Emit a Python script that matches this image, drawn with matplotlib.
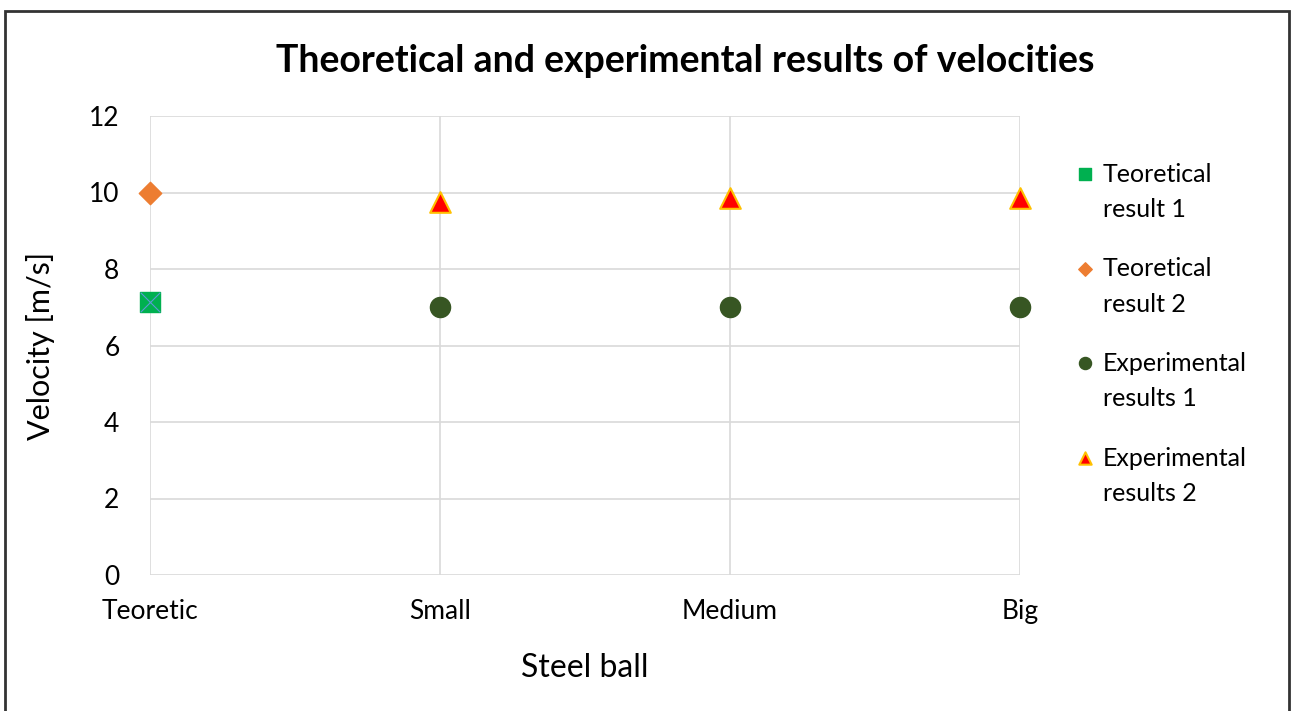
import numpy as np
from matplotlib import pyplot as plt
from matplotlib.patches import Rectangle

plt.rcParams['font.family'] = ['Lato', 'DejaVu Sans']

# data
categories = ['Teoretic', 'Small', 'Medium', 'Big']
teo1_x = [0]
teo1_y = [7.14]
teo2_x = [0]
teo2_y = [10.0]
exp1_x = [1, 2, 3]
exp1_y = [7.0, 7.0, 7.0]
exp2_x = [1, 2, 3]
exp2_y = [9.75, 9.85, 9.85]
yticks = [0, 2, 4, 6, 8, 10, 12]

fig = plt.figure(figsize=(12.93, 7.11), dpi=100)
ax = fig.add_axes([150 / 1293, 1 - 575 / 711, 870 / 1293, 459 / 711])

# outer chart border
fig.patches.append(Rectangle((5 / 1293, -0.05), 1284 / 1293, 1.05 - 11 / 711,
                             transform=fig.transFigure, fill=False,
                             edgecolor='#333333', linewidth=2))

ax.scatter(teo1_x, teo1_y, marker='s', s=220, color='#00B050', zorder=3,
           clip_on=False, label='Teoretical\nresult 1')
ax.scatter(teo1_x, teo1_y, marker='x', s=200, color='#5B9BD5', linewidths=0.8,
           zorder=4, clip_on=False)
ax.scatter(teo2_x, teo2_y, marker='D', s=130, color='#ED7D31', zorder=3,
           clip_on=False, label='Teoretical\nresult 2')
ax.scatter(exp1_x, exp1_y, marker='o', s=210, color='#375623', zorder=3,
           clip_on=False, label='Experimental\nresults 1')
ax.scatter(exp2_x, exp2_y, marker='^', s=220, color='#FF0000', edgecolors='#FFC000',
           linewidths=1.5, zorder=3, clip_on=False, label='Experimental\nresults 2')

ax.set_xlim(0, 3)
ax.set_ylim(0, 12)
ax.set_xticks(range(len(categories)))
ax.set_xticklabels(categories)
ax.set_yticks(yticks)
ax.tick_params(length=0, labelsize=19, colors='#000000')
ax.tick_params(axis='x', pad=17)
ax.tick_params(axis='y', pad=22)
ax.grid(True, color='#D9D9D9', linewidth=1.2)
ax.set_axisbelow(True)
for sp in ax.spines.values():
    sp.set_visible(False)

ax.set_xlabel('Steel ball', fontsize=23, labelpad=21)
ax.set_ylabel('Velocity [m/s]', fontsize=22, labelpad=24)
fig.text(685 / 1293, 1 - 61 / 711, 'Theoretical and experimental results of velocities',
         ha='center', va='center', fontsize=27, fontweight='bold')

leg = ax.legend(loc='upper left', bbox_to_anchor=(1.035, 0.947), frameon=False,
                fontsize=18, labelspacing=1.45, handletextpad=0.2, handlelength=1.0,
                markerscale=0.6, scatterpoints=1)
for t in leg.get_texts():
    t.set_linespacing(1.65)
# lift the markers to the first text line, like the original
for h in leg.legend_handles:
    h.set_offsets(h.get_offsets() + np.array([0, 15]))

fig.savefig('out.png', dpi=100)
